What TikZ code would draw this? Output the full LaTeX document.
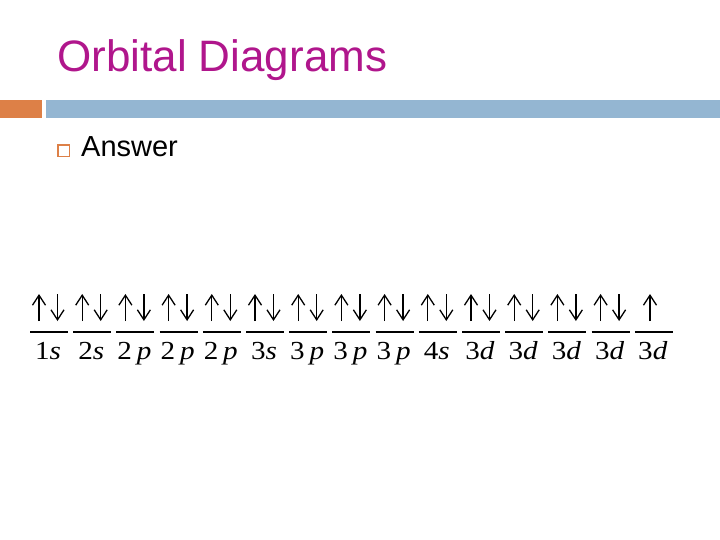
\documentclass[tikz,border=0pt]{standalone}
\usepackage{graphicx}
\usepackage{fontspec}
\setmainfont{Liberation Sans}
\newfontfamily\timesfont{Liberation Serif}
\usetikzlibrary{arrows.meta, positioning}
\definecolor{titlemagenta}{RGB}{176,22,140}
\definecolor{barorange}{RGB}{221,128,71}
\definecolor{barblue}{RGB}{148,182,210}

\begin{document}
\begin{tikzpicture}[x=1pt, y=-1pt,
  spin/.style={line width=1.3pt, -{Straight Barb[length=10pt, width=13pt, line width=1.3pt]}},
  level/.style={line width=2pt},
  orblabel/.style={font=\timesfont\fontsize{26}{26}\selectfont, anchor=base, inner sep=0pt}]
\useasboundingbox (0,0) rectangle (720,540);

% Titel und Balken
\node[titlemagenta, anchor=base west, inner sep=0pt, font=\fontsize{44}{44}\selectfont] (title) at (57,72) {Orbital Diagrams};
\fill[barorange] (0,100) rectangle (42,118);
\fill[barblue] (46,100) rectangle (720,118);

% Aufzaehlung
\draw[barorange, line width=1.4pt] (58,145) rectangle (69.5,156.5);
\node[anchor=base west, inner sep=0pt, font=\fontsize{29}{29}\selectfont] (answer) at (81,157) {Answer};

% Orbitale
\foreach \lab [count=\i] in {1\textit{s}, 2\textit{s}, 2\,\textit{p}, 2\,\textit{p}, 2\,\textit{p}, 3\textit{s}, 3\,\textit{p}, 3\,\textit{p}, 3\,\textit{p}, 4\textit{s}, 3\textit{d}, 3\textit{d}, 3\textit{d}, 3\textit{d}, 3\textit{d}} {
  \pgfmathsetmacro{\cx}{49+43.2*(\i-1)}
  \coordinate (l\i) at (\cx-19,332);
  \coordinate (r\i) at (\cx+19,332);
  \draw[level] (l\i) -- (r\i);
  \node[orblabel] (lab\i) at (\cx-1,359) {\scalebox{1.12}[1]{\lab}};
}

% Elektronen
\foreach \i in {1,...,14} {
  \pgfmathsetmacro{\cx}{49+43.2*(\i-1)}
  \draw[spin] (\cx-10,321) -- (\cx-10,294);
  \draw[spin] (\cx+8.5,294) -- (\cx+8.5,321);
}
\draw[spin] (650,321) -- (650,294);
\end{tikzpicture}
\end{document}
